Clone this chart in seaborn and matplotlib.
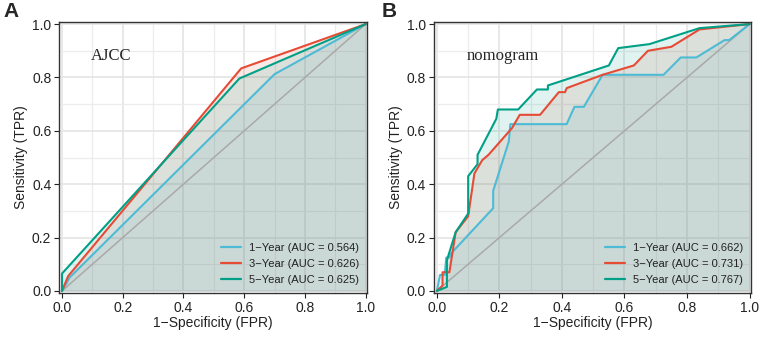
import numpy as np
import seaborn as sns
import matplotlib.pyplot as plt
from matplotlib.ticker import MultipleLocator

# ROC 曲线数据
labels_a = ['1\u2212Year (AUC = 0.564)', '3\u2212Year (AUC = 0.626)', '5\u2212Year (AUC = 0.625)']
labels_b = ['1\u2212Year (AUC = 0.662)', '3\u2212Year (AUC = 0.731)', '5\u2212Year (AUC = 0.767)']
colors = ['#4DBBD5', '#E64B35', '#00A087']
ticks = [0.0, 0.2, 0.4, 0.6, 0.8, 1.0]
tick_labels = ['0.0', '0.2', '0.4', '0.6', '0.8', '1.0']

# Panel A: AJCC
a1_fpr = [0.0, 0.025, 0.70, 1.0]
a1_tpr = [0.0, 0.05, 0.8125, 1.0]
a3_fpr = [0.0, 0.02, 0.59, 1.0]
a3_tpr = [0.0, 0.055, 0.834, 1.0]
a5_fpr = [0.0, 0.0, 0.584, 1.0]
a5_tpr = [0.0, 0.065, 0.796, 1.0]

# Panel B: nomogram
b1_fpr = [0.0, 0.01, 0.025, 0.03, 0.04, 0.045, 0.18, 0.18, 0.23, 0.235, 0.415, 0.44, 0.47,
          0.53, 0.725, 0.78, 0.83, 0.92, 0.935, 1.0]
b1_tpr = [0.0, 0.06, 0.06, 0.125, 0.125, 0.14, 0.31, 0.375, 0.56, 0.625, 0.625, 0.69, 0.69,
          0.81, 0.81, 0.875, 0.875, 0.94, 0.94, 1.0]
b3_fpr = [0.0, 0.018, 0.018, 0.04, 0.06, 0.10, 0.12, 0.145, 0.165, 0.24, 0.265, 0.33, 0.39,
          0.41, 0.415, 0.53, 0.63, 0.675, 0.75, 0.84, 1.0]
b3_tpr = [0.0, 0.02, 0.07, 0.07, 0.22, 0.28, 0.44, 0.49, 0.51, 0.61, 0.66, 0.66, 0.745,
          0.745, 0.76, 0.81, 0.845, 0.90, 0.915, 0.98, 1.0]
b5_fpr = [0.0, 0.032, 0.032, 0.06, 0.10, 0.10, 0.13, 0.13, 0.19, 0.195, 0.26, 0.32, 0.355,
          0.355, 0.55, 0.58, 0.68, 0.84, 1.0]
b5_tpr = [0.0, 0.015, 0.115, 0.22, 0.29, 0.43, 0.475, 0.51, 0.645, 0.68, 0.68, 0.755, 0.755,
          0.77, 0.845, 0.91, 0.925, 0.985, 1.0]

sns.set_style('white')
plt.rcParams['font.family'] = ['Liberation Sans', 'DejaVu Sans']

fig = plt.figure(figsize=(7.61, 3.38), dpi=100)
ax_a = fig.add_axes([0.0775, 0.133, 0.405, 0.802])
ax_b = fig.add_axes([0.570, 0.133, 0.417, 0.802])


def draw_panel(ax, curves, labels, name):
    # 填充曲线下面积
    for (fpr, tpr), c in zip(curves, colors):
        ax.fill_between(fpr, tpr, 0, color=c, alpha=0.12, linewidth=0)

    ax.plot([0, 1], [0, 1], color='#a9a9a9', linewidth=1.1)

    for (fpr, tpr), c, lab in zip(curves, colors, labels):
        sns.lineplot(x=fpr, y=tpr, estimator=None, sort=False, color=c,
                     linewidth=1.5, label=lab, ax=ax)

    ax.set_xlim(-0.01, 1.005)
    ax.set_ylim(-0.008, 1.008)
    ax.set_xticks(ticks)
    ax.set_yticks(ticks)
    ax.set_xticklabels(tick_labels)
    ax.set_yticklabels(tick_labels)
    ax.xaxis.set_minor_locator(MultipleLocator(0.1))
    ax.yaxis.set_minor_locator(MultipleLocator(0.1))
    ax.grid(which='major', color='#e6e6e6', linewidth=1.3)
    ax.grid(which='minor', color='#ececec', linewidth=0.9)
    ax.set_axisbelow(True)

    leg = ax.legend(loc='lower right', frameon=False, fontsize=8,
                    handlelength=1.8, labelspacing=0.55, borderaxespad=0.3,
                    handletextpad=0.7)
    for line in leg.get_lines():
        line.set_linewidth(1.6)
    for t in leg.get_texts():
        t.set_color('#222222')

    ax.text(0.105, 0.86, name, transform=ax.transAxes, fontsize=12,
            family=['Liberation Serif', 'DejaVu Serif'])

    ax.set_xlabel('1\u2212Specificity (FPR)', fontsize=10, color='#222222', labelpad=1)
    ax.set_ylabel('Sensitivity (TPR)', fontsize=10, color='#222222', labelpad=3)
    ax.tick_params(axis='both', which='major', direction='out', length=3.5,
                   width=0.8, color='#222222', labelcolor='#222222', labelsize=10,
                   pad=2, bottom=True, left=True)
    ax.tick_params(which='minor', length=0)
    for sp in ax.spines.values():
        sp.set_color('#333333')
        sp.set_linewidth(1.0)


draw_panel(ax_a, [(a1_fpr, a1_tpr), (a3_fpr, a3_tpr), (a5_fpr, a5_tpr)], labels_a, 'AJCC')
draw_panel(ax_b, [(b1_fpr, b1_tpr), (b3_fpr, b3_tpr), (b5_fpr, b5_tpr)], labels_b, 'nomogram')

fig.text(0.004, 0.995, 'A', fontsize=15, fontweight='bold', va='top', ha='left')
fig.text(0.501, 0.995, 'B', fontsize=15, fontweight='bold', va='top', ha='left')

fig.savefig('out.png', dpi=100)
